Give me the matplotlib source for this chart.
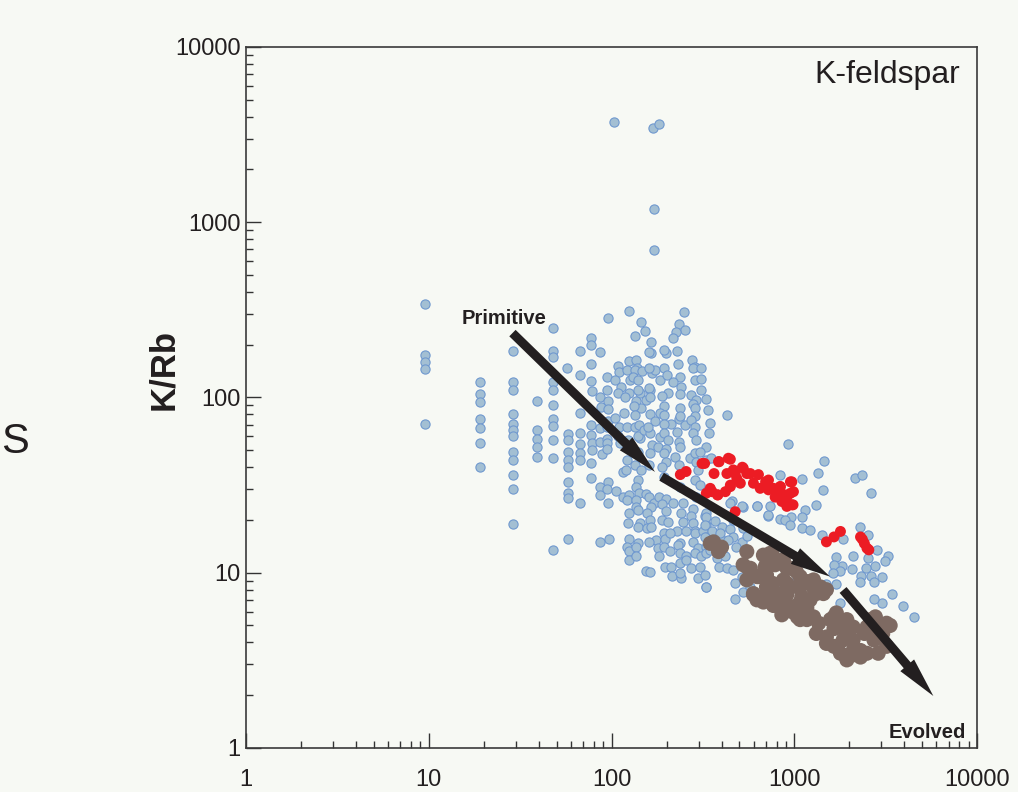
import numpy as np
import matplotlib.pyplot as plt
from matplotlib.ticker import LogLocator, FixedLocator, FuncFormatter, NullFormatter

plt.rcParams['font.family'] = ['Liberation Sans', 'DejaVu Sans']

BG = '#f7f9f4'
INK = '#231f20'

# K-feldspar analyses: (Rb ppm, K/Rb)
blue_pts = [
    (9.5, 340), (9.5, 175), (9.5, 160), (9.5, 145), (9.5, 71),
    (19, 122), (19, 104), (19, 94), (19, 75), (19, 67), (19, 55), (19, 40),
    (29, 185), (29, 123), (29, 110), (29, 81), (29, 71), (29, 65), (29, 60), (29, 49),
    (29, 44), (29, 36), (29, 30), (29, 19),
    (39, 96), (39, 65), (39, 58), (39, 52), (39, 46),
    (48, 248), (48, 185), (48, 171), (48, 123), (48, 110), (48, 91), (48, 75), (48, 69),
    (48, 57), (48, 45), (48, 13.5),
    (57, 147), (58, 62), (58, 57), (58, 49), (58, 44), (58, 40), (58, 33), (58, 28.6),
    (58, 26.6), (58, 15.5),
    (67, 185), (67, 134), (67, 82), (67, 62.5), (67, 54), (67, 48), (67, 44), (67, 25),
    (77, 218), (77, 199), (77, 155), (77, 124), (78, 109), (77, 70), (77, 61), (78, 55),
    (78, 50), (77, 42), (77, 34.5),
    (86, 182), (86, 100), (88, 88.6), (87, 67), (87, 56), (89, 47.5), (87, 31), (87, 27.8),
    (96, 285), (94, 131), (95, 110), (96, 96), (96, 86), (96, 73), (94, 68), (95, 58),
    (95, 55), (94, 51), (96, 33), (94, 30), (96, 25), (97, 15.6), (87, 15),
    (108, 152), (110, 140), (104, 125), (112, 115), (108, 106), (105, 76), (110, 68),
    (109, 60), (111, 55), (115, 37.5), (106, 29.3), (116, 27),
    (124, 312), (124, 162), (122, 143), (126, 126), (125, 106), (118, 101), (117, 82),
    (121, 68), (123, 57), (122, 44), (120, 38.5), (125, 27.8), (122, 26), (124, 21.8),
    (123, 19.1), (124, 15.5), (121, 14.1), (125, 13.3), (124, 11.8),
    (134, 223), (136, 164), (138, 147), (134, 144), (131, 131), (140, 126), (143, 106),
    (140, 110), (137, 95.5), (145, 87), (132, 89), (134, 79), (134, 68), (141, 70),
    (143, 58.5), (140, 60), (139, 49), (134, 41), (145, 38.6), (140, 33.8), (136, 31),
    (141, 28.4), (137, 26), (136, 23.7), (140, 22.8), (143, 19.3), (139, 18.3), (140, 14.7),
    (137, 14.1), (137, 12.5),
    (145, 268), (153, 238), (164, 207), (164, 180), (160, 182), (146, 142), (166, 138),
    (173, 144), (160, 147), (163, 110), (160, 113), (155, 97), (162, 101), (163, 80),
    (173, 73), (151, 65), (163, 62.5), (158, 68), (166, 53.5), (162, 48), (160, 41),
    (155, 28), (160, 27), (171, 25), (165, 23.8), (156, 21.8), (162, 20), (157, 17.9),
    (164, 18.3), (176, 15.4), (160, 15), (155, 10.2), (163, 10.1),
    (199, 179), (194, 187), (194, 147), (185, 125), (201, 134), (204, 106), (189, 102),
    (194, 89), (185, 82), (194, 79), (211, 71), (194, 71), (185, 59.5), (194, 62.5),
    (180, 52.5), (204, 57), (199, 51), (194, 48), (199, 43), (190, 40), (194, 35),
    (183, 27), (199, 26.5), (189, 24.7), (199, 22.5), (189, 20), (204, 19.5), (194, 16.8),
    (195, 15.5), (180, 13.8), (183, 12.4), (194, 14.1), (196, 10.8),
    (250, 308), (235, 263), (252, 243), (225, 237), (217, 219), (227, 183), (230, 155),
    (237, 131), (218, 123), (240, 114), (237, 105), (237, 87), (233, 75), (237, 78),
    (227, 63.5), (233, 56), (253, 70), (237, 52.5), (222, 46), (233, 41), (237, 31),
    (217, 25), (245, 25), (240, 21.8), (245, 19.5), (227, 17.2), (209, 16.8), (237, 14.8),
    (230, 14.4), (209, 13.3), (237, 12.9), (237, 11.3), (211, 10.8), (215, 9.6), (240, 9.3),
    (237, 9.9),
    (276, 164), (287, 150), (280, 148), (287, 126), (272, 103), (290, 97), (280, 92),
    (287, 87), (287, 78), (273, 74), (287, 68), (280, 62.5), (290, 57), (269, 45), (287, 48),
    (290, 43), (298, 38.6), (287, 33.8), (290, 27), (280, 23), (273, 21), (280, 19.2),
    (285, 17.4), (287, 16.8), (280, 15), (298, 13.8), (287, 12.9), (257, 12.5), (257, 11.8),
    (273, 10.6), (297, 9.3), (257, 17.2),
    (308, 148), (308, 127), (309, 110), (330, 97.8), (337, 85), (347, 71.5), (340, 62.5),
    (330, 52.5), (330, 44), (306, 49), (350, 45), (323, 21), (330, 18.8), (310, 12.4),
    (330, 14.1), (306, 10.8), (323, 9.7), (330, 8.3), (318, 17.2), (330, 21.8), (330, 16),
    (330, 12.9), (428, 79), (306, 31.6),
    (330, 20.7), (370, 19.8), (400, 18.2), (447, 17.7), (323, 18.8), (355, 17.2), (394, 16),
    (464, 16), (520, 15), (323, 16), (347, 13.5), (380, 12.1), (420, 12.4), (388, 10.8),
    (428, 10.6), (464, 10.4), (520, 9.5), (475, 8.7), (330, 8.3), (526, 7.8), (475, 7.1),
    (575, 8.3), (680, 9.1), (805, 8.3), (610, 7.5), (705, 7.0), (820, 7.3), (930, 7.6),
    (1040, 9.5), (1081, 8.3), (1170, 8.7), (1320, 8.3),
    (464, 20), (526, 17.9), (394, 16.8), (436, 15.4), (480, 14.1), (550, 16.2),
    (455, 25.5), (525, 23.6), (625, 24), (720, 21), (840, 20.3),
    (919, 54.3), (1450, 43.5), (1350, 37), (2140, 34.8), (2340, 36.3), (2615, 28.6),
    (1440, 29.7), (1100, 34.2), (840, 36.3), (1320, 24.4), (1140, 22.8), (1100, 20.8),
    (955, 20.8), (890, 20), (953, 18.8), (720, 21.3), (740, 23.9), (625, 23.9), (520, 23.9),
    (447, 25.1), (1100, 18), (1226, 17.5), (1410, 16.4), (1860, 15.6), (2300, 18.2),
    (2540, 16.4), (2100, 12.5), (2830, 13.4), (3250, 12.5), (3150, 11.7), (2540, 12.2),
    (2780, 10.9), (2470, 10.6), (2060, 10.5), (1830, 10.9), (1700, 12.3), (1640, 11),
    (1790, 10.2), (1620, 10), (1500, 8.6), (1700, 8.6), (2305, 9.6), (2640, 9.6),
    (2280, 8.8), (2720, 8.8), (3030, 9.4), (3030, 6.7), (3440, 7.6), (2720, 7.1),
    (3950, 6.5), (4500, 5.6), (1790, 6.7),
    (103, 3720), (169, 3465), (183, 3620), (171, 1185), (171, 692),
]

red_pts = [
    (238, 36.3), (256, 37.8), (313, 42), (364, 36.8), (388, 43), (447, 44.4), (347, 30.3),
    (382, 27.8), (355, 29), (420, 29), (447, 31.6), (485, 34.5), (520, 40), (550, 36.8),
    (428, 36.8), (464, 38.6), (598, 32.4), (637, 36.3), (651, 30.3), (723, 33.8), (770, 30.3),
    (837, 31), (891, 27.8), (970, 33), (990, 29), (985, 24.4), (911, 23.9), (855, 25.5),
    (786, 27), (475, 22.3), (323, 42), (385, 43), (436, 45), (330, 28.4), (380, 27.8),
    (447, 31), (507, 32.4), (475, 36.8), (526, 39.5), (575, 36.8), (697, 33), (723, 29.7),
    (840, 31), (953, 33), (805, 27.8), (911, 27), (970, 24.4), (953, 28.4),
    (1500, 15), (1650, 16), (1790, 17.2), (2305, 16), (2420, 14.7), (2500, 13.8),
    (2560, 13.5), (2360, 15.5),
]

brown_pts = [
    (362, 15), (400, 14), (385, 13.2), (347, 14.7), (550, 13.2), (561, 10.6), (550, 9.1),
    (678, 12.6), (738, 12.9), (769, 11.3), (693, 10.8), (873, 11.8), (911, 10.6),
    (1077, 9.5), (1172, 8.9), (1275, 9.1), (1077, 8.3), (1275, 8.2), (1444, 7.8), (1221, 7.0),
    (598, 7.6), (678, 6.8), (769, 7.3), (855, 6.5), (911, 7.5), (855, 5.75), (970, 6.0),
    (1077, 5.4), (1172, 6.3), (1275, 5.6), (1360, 5.15), (1578, 5.4), (1700, 5.9),
    (1940, 5.4), (1650, 4.8), (1940, 4.5), (2100, 4.9), (1500, 4.3), (1650, 3.8),
    (1790, 3.47), (2100, 3.4), (2305, 3.6), (2100, 4.13), (2420, 4.5), (2615, 5.4),
    (2780, 5.6), (3050, 4.9), (2967, 4.3), (2880, 3.47), (3200, 3.8), (2500, 3.47),
    (525, 11.1), (575, 10.6), (760, 12.6), (705, 11.1), (786, 11.1), (855, 11.8), (637, 9.5),
    (705, 9.7), (760, 8.7), (873, 9.1), (953, 10.6), (1025, 10.2), (1240, 8.9), (1391, 8.3),
    (1444, 7.6), (598, 7.5), (678, 7.3), (805, 6.7), (911, 6.1), (990, 6.4), (1100, 7.3),
    (1650, 5.6), (1790, 4.9), (1320, 4.5), (1500, 3.95), (1850, 4.13), (2305, 3.3),
    (2730, 4.13), (3050, 4.5), (3200, 5.15), (2500, 4.9), (1040, 5.6), (911, 6.4),
    (1172, 5.4), (769, 6.5), (1077, 6.8), (1320, 7.6), (1500, 8.0), (1221, 8.7),
    (1040, 8.3), (911, 8.7), (625, 9.5), (705, 8.3), (625, 7.0), (837, 7.6), (2780, 4.9),
    (3349, 5.0), (2100, 3.6), (1940, 3.18),
]

# trend arrows: (start, tip) in data units
arrows = [((28.7, 233), (173, 37.6)),
          ((188, 35.3), (1571, 9.5)),
          ((1850, 7.97), (5770, 1.98))]

tick_vals = [1, 10, 100, 1000, 10000]

fig = plt.figure(figsize=(10.18, 7.92), dpi=100, facecolor=BG)
ax = fig.add_axes([0.2417, 0.0556, 0.718, 0.8851], facecolor=BG)

bx, by = np.array(blue_pts).T
rx, ry = np.array(red_pts).T
wx, wy = np.array(brown_pts).T

ax.scatter(bx, by, s=44, c='#a3bfd3', edgecolors='#7099cf', linewidths=0.8, zorder=2)
ax.scatter(rx, ry, s=62, c='#ec1c24', edgecolors='none', zorder=3)
ax.scatter(wx, wy, s=118, c='#7e6a62', edgecolors='none', zorder=4)

for start, tip in arrows:
    ax.annotate('', xy=tip, xytext=start,
                arrowprops=dict(arrowstyle='simple,head_length=2.9,head_width=1.3,tail_width=0.65',
                                fc=INK, ec='none', shrinkA=0, shrinkB=0, mutation_scale=10),
                zorder=5)

ax.set_xscale('log')
ax.set_yscale('log')
ax.set_xlim(1, 10000)
ax.set_ylim(1, 10000)

fmt = FuncFormatter(lambda v, p: f'{int(round(v))}')
for axis in (ax.xaxis, ax.yaxis):
    axis.set_major_locator(FixedLocator(tick_vals))
    axis.set_minor_locator(LogLocator(base=10, subs=np.arange(2, 10)))
    axis.set_major_formatter(fmt)
    axis.set_minor_formatter(NullFormatter())

ax.tick_params(which='both', direction='in', color='#333333', width=1.0,
               top=False, right=False)
ax.tick_params(which='major', length=11)
ax.tick_params(which='minor', length=5)
ax.tick_params(axis='x', which='major', pad=15, labelsize=17, labelcolor=INK)
ax.tick_params(axis='y', which='major', pad=4, labelsize=17, labelcolor=INK)

for sp in ax.spines.values():
    sp.set_color('#3a3a3a')
    sp.set_linewidth(1.2)

ax.text(0.977, 0.96, 'K-feldspar', transform=ax.transAxes, ha='right', va='center',
        fontsize=23, color=INK)
ax.text(25.8, 284, 'Primitive', ha='center', va='center', fontsize=14.5,
        fontweight='bold', color=INK)
ax.text(5340, 1.23, 'Evolved', ha='center', va='center', fontsize=14.5,
        fontweight='bold', color=INK)

fig.text(164 / 1018, 1 - 370 / 792, 'K/Rb', rotation=90, ha='center', va='center',
         fontsize=25, fontweight='bold', color=INK)
# fragment of a neighbouring panel's label
fig.text(1 / 1018, 1 - 453 / 792, 'S', ha='left', va='baseline', fontsize=30, color=INK)

fig.savefig('out.png', dpi=100, facecolor=BG)
